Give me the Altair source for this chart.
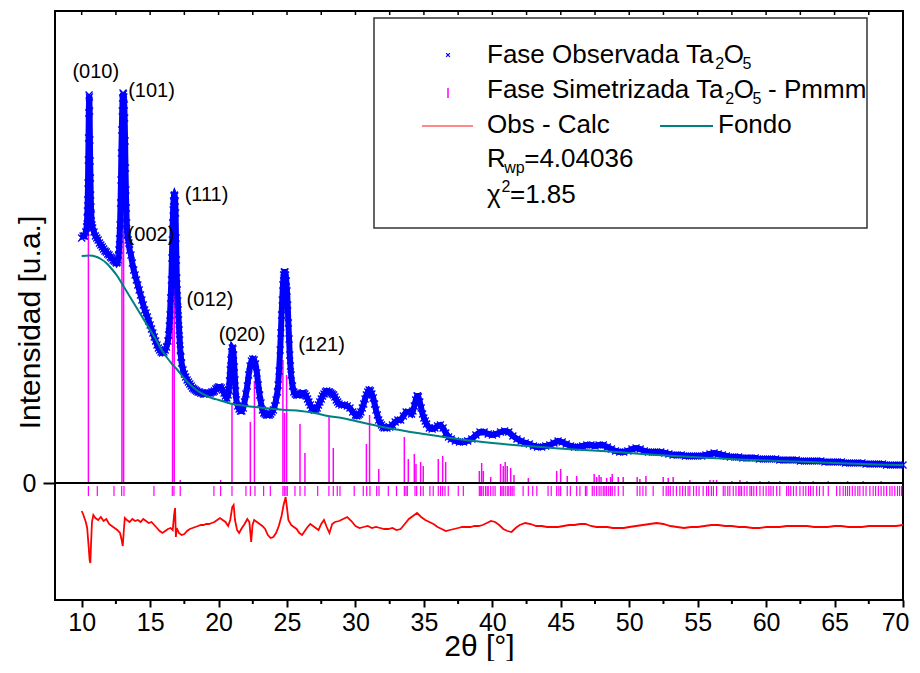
import altair as alt
import pandas as pd

# ---------------- data ----------------
# observed pattern (2theta, intensity in a.u.)
obs = [(10.0,245),(10.1,247),(10.2,247),(10.3,251),(10.36,256),(10.4,265),(10.42,272),(10.44,283),(10.46,300),(10.48,323),(10.5,345),(10.52,370),(10.54,388),(10.56,386),(10.58,372),(10.6,343),(10.62,322),(10.64,305),(10.66,288),(10.68,276),(10.7,268),(10.75,258),(10.8,255),(10.9,251),(11.0,247),(11.1,245),(11.2,243),(11.3,240),(11.4,238),(11.5,236),(11.6,234),(11.7,232),(11.8,231),(11.9,229),(12.0,228),(12.1,226),(12.2,225),(12.3,223),(12.4,222),(12.5,221),(12.55,220),(12.6,221),(12.65,223),(12.69,228),(12.72,233),(12.76,244),(12.8,258),(12.84,280),(12.87,303),(12.9,330),(12.93,353),(12.96,372),(12.99,385),(13.02,390),(13.05,389),(13.08,386),(13.11,378),(13.14,365),(13.17,342),(13.2,315),(13.23,293),(13.26,275),(13.29,260),(13.33,248),(13.4,243),(13.45,240),(13.5,233),(13.6,228),(13.7,220),(13.8,213),(13.9,208),(14.0,203),(14.1,198),(14.2,193),(14.3,188),(14.4,183),(14.5,178),(14.6,173),(14.7,170),(14.8,166),(14.9,162),(15.0,158),(15.1,154),(15.2,150),(15.3,146),(15.4,142),(15.5,138),(15.6,135),(15.7,133),(15.8,131),(15.9,130),(16.0,131),(16.1,133),(16.2,136),(16.3,142),(16.35,148),(16.4,157),(16.45,168),(16.5,185),(16.55,203),(16.59,225),(16.62,243),(16.65,260),(16.68,273),(16.71,282),(16.74,287),(16.77,288),(16.8,287),(16.83,282),(16.86,270),(16.89,245),(16.92,223),(16.95,205),(16.98,193),(17.02,182),(17.05,173),(17.08,163),(17.12,153),(17.16,143),(17.2,133),(17.25,126),(17.3,120),(17.4,113),(17.5,109),(17.6,106),(17.7,103),(17.8,101),(17.9,99),(18.0,97),(18.1,95),(18.2,94),(18.3,93),(18.4,92),(18.5,91),(18.6,91),(18.7,90),(18.8,90),(18.9,89),(19.0,89),(19.1,89),(19.2,90),(19.3,90),(19.4,90),(19.5,91),(19.6,91),(19.7,92),(19.8,94),(19.9,95),(20.0,96),(20.1,96),(20.2,95),(20.3,93),(20.4,90),(20.5,87),(20.6,85),(20.7,88),(20.75,93),(20.8,102),(20.85,113),(20.9,123),(20.95,131),(21.0,135),(21.05,134),(21.1,128),(21.15,116),(21.2,103),(21.25,92),(21.3,83),(21.4,77),(21.5,74),(21.6,72),(21.7,72),(21.8,75),(21.9,81),(22.0,89),(22.1,97),(22.2,108),(22.3,117),(22.4,122),(22.5,124),(22.6,123),(22.7,119),(22.8,110),(22.9,98),(23.0,88),(23.1,80),(23.2,73),(23.3,70),(23.4,69),(23.5,68),(23.6,68),(23.7,68),(23.8,69),(23.9,71),(24.0,73),(24.1,77),(24.2,83),(24.3,91),(24.35,98),(24.42,112),(24.5,133),(24.55,150),(24.6,168),(24.65,183),(24.7,198),(24.75,208),(24.8,211),(24.85,211),(24.9,208),(24.95,202),(25.0,192),(25.05,178),(25.1,160),(25.15,144),(25.2,128),(25.25,117),(25.3,108),(25.4,97),(25.5,91),(25.6,89),(25.7,88),(25.8,88),(25.9,88),(26.0,89),(26.1,90),(26.2,90),(26.3,89),(26.4,87),(26.5,84),(26.6,81),(26.7,78),(26.8,75),(26.9,74),(27.0,73),(27.1,74),(27.2,75),(27.3,78),(27.4,81),(27.5,84),(27.6,87),(27.7,89),(27.8,91),(27.9,92),(28.0,91),(28.1,91),(28.2,90),(28.3,89),(28.4,88),(28.5,86),(28.6,83),(28.7,81),(28.8,79),(29.0,78),(29.2,78),(29.4,77),(29.6,75),(29.8,71),(30.0,68),(30.1,67),(30.2,68),(30.3,69),(30.4,71),(30.5,75),(30.6,79),(30.7,84),(30.8,88),(30.9,91),(31.0,93),(31.1,92),(31.2,89),(31.3,85),(31.4,79),(31.5,73),(31.6,68),(31.7,63),(31.8,60),(31.9,58),(32.0,56),(32.1,55),(32.3,55),(32.5,56),(32.7,58),(32.9,61),(33.1,63),(33.3,63),(33.5,67),(33.7,71),(33.9,71),(34.1,69),(34.2,72),(34.3,77),(34.4,83),(34.5,87),(34.55,87),(34.6,86),(34.7,81),(34.8,75),(34.9,69),(35.0,65),(35.1,62),(35.2,59),(35.4,55),(35.6,54),(35.8,55),(36.0,57),(36.2,58),(36.4,55),(36.6,50),(36.8,46),(37.0,44),(37.3,42),(37.6,41),(37.9,41),(38.2,42),(38.5,44),(38.8,48),(39.1,51),(39.4,51),(39.7,49),(40.0,48),(40.3,49),(40.6,51),(40.9,52),(41.2,51),(41.5,47),(41.8,44),(42.1,42),(42.4,40),(42.7,39),(43.0,37),(43.3,36),(43.6,36),(43.9,37),(44.2,38),(44.5,40),(44.8,42),(45.1,41),(45.4,39),(45.7,37),(46.0,36),(46.3,36),(46.6,37),(46.9,38),(47.2,38),(47.5,37),(47.8,38),(48.1,38),(48.4,36),(48.7,34),(49.0,32),(49.3,31),(49.6,31),(49.9,32),(50.2,34),(50.5,35),(50.8,34),(51.1,32),(51.4,31),(51.7,31),(52.0,31),(52.3,31),(52.6,30),(52.9,29),(53.2,28),(53.5,28),(53.8,28),(54.1,27),(54.4,27),(54.7,27),(55.0,27),(55.3,27),(55.6,28),(55.9,29),(56.2,30),(56.5,29),(56.8,28),(57.1,27),(57.4,26),(57.7,26),(58.0,26),(58.3,25),(58.6,25),(58.9,25),(59.2,25),(59.5,24),(59.8,24),(60.1,24),(60.4,24),(60.7,24),(61.0,23),(61.3,23),(61.6,23),(61.9,23),(62.2,23),(62.5,22),(62.8,22),(63.1,22),(63.4,22),(63.7,22),(64.0,22),(64.3,21),(64.6,21),(64.9,21),(65.2,21),(65.5,21),(65.8,20),(66.1,20),(66.4,20),(66.7,20),(67.0,20),(67.3,19),(67.6,19),(67.9,19),(68.2,19),(68.5,19),(68.8,18),(69.1,18),(69.4,18),(69.7,18),(70.0,18)]

# background (Fondo)
fondo = [(10.0,227),(10.6,227.5),(11.0,226.5),(11.4,224),(11.8,220),(12.2,214),(12.6,207),(13.0,198),(13.4,189),(13.8,180),(14.2,171),(14.6,162),(15.0,153),(15.4,144),(15.8,134),(16.2,126),(16.6,119),(17.0,113),(17.4,106),(17.8,100),(18.2,95),(18.6,91),(19.0,88),(19.5,85),(20.0,83),(20.5,81),(21.0,79),(22.0,77),(23.0,75.5),(24.0,74),(25.0,73),(26.0,72),(27.0,70),(28.0,67),(29.0,65),(30.0,62),(31.0,59),(32.0,56),(33.0,53.5),(34.0,51),(35.0,49),(36.0,47),(37.0,45),(38.0,43),(39.0,41.5),(40.0,40),(42.0,37.5),(44.0,35.5),(46.0,33.5),(48.0,32),(50.0,30),(52.0,28),(54.0,26.5),(56.0,25),(58.0,23.5),(60.0,22.5),(62.0,21.5),(64.0,20.5),(66.0,19.5),(68.0,18.5),(70.0,18)]

# difference curve (Obs - Calc), plotted with its offset below zero
diff = [(10.0,-28),(10.1,-31),(10.2,-35),(10.3,-39),(10.4,-45),(10.5,-62),(10.58,-77),(10.63,-80),(10.68,-62),(10.75,-39),(10.85,-32),(11.0,-35),(11.2,-37),(11.4,-34),(11.6,-38),(11.8,-36),(12.0,-41),(12.2,-43),(12.4,-45),(12.6,-47),(12.8,-50),(12.92,-57),(13.0,-63),(13.08,-47),(13.15,-35),(13.3,-37),(13.5,-39),(13.7,-36),(13.9,-38),(14.1,-37),(14.3,-39),(14.5,-36),(14.7,-38),(14.9,-40),(15.1,-39),(15.3,-42),(15.5,-45),(15.7,-48),(15.9,-50),(16.1,-48),(16.3,-46),(16.5,-45),(16.65,-47),(16.75,-32),(16.82,-25),(16.88,-54),(16.95,-45),(17.1,-50),(17.3,-52),(17.5,-51),(17.7,-48),(17.9,-46),(18.1,-45),(18.3,-44),(18.5,-43),(18.7,-42),(18.9,-42),(19.1,-41),(19.3,-41),(19.5,-40),(19.7,-39),(19.9,-37),(20.1,-35),(20.3,-37),(20.5,-39),(20.7,-43),(20.85,-37),(21.0,-24),(21.1,-22),(21.2,-37),(21.35,-47),(21.5,-50),(21.7,-45),(21.9,-41),(22.1,-36),(22.25,-39),(22.38,-59),(22.48,-42),(22.6,-37),(22.8,-39),(23.0,-41),(23.2,-43),(23.4,-46),(23.6,-52),(23.8,-55),(24.0,-54),(24.2,-50),(24.4,-43),(24.6,-33),(24.75,-22),(24.9,-14),(25.0,-25),(25.1,-37),(25.3,-42),(25.5,-44),(25.7,-46),(25.9,-50),(26.1,-52),(26.3,-48),(26.5,-44),(26.7,-41),(26.9,-43),(27.1,-45),(27.3,-47),(27.5,-41),(27.7,-37),(27.9,-44),(28.1,-50),(28.3,-41),(28.5,-39),(28.8,-38),(29.1,-36),(29.4,-34),(29.7,-38),(30.0,-43),(30.3,-45),(30.6,-44),(30.9,-43),(31.2,-45),(31.5,-44),(31.8,-45),(32.1,-46),(32.4,-46),(32.7,-45),(33.0,-47),(33.3,-46),(33.6,-41),(33.9,-36),(34.2,-33),(34.5,-30),(34.8,-34),(35.1,-37),(35.4,-39),(35.7,-41),(36.0,-44),(36.3,-46),(36.6,-48),(36.9,-47),(37.2,-46),(37.5,-45),(37.8,-44),(38.1,-44),(38.4,-44),(38.7,-43),(39.0,-43),(39.3,-42),(39.6,-40),(39.9,-38),(40.2,-39),(40.5,-42),(40.8,-46),(41.1,-48),(41.4,-49),(41.7,-45),(42.0,-42),(42.4,-40),(42.8,-41),(43.2,-43),(43.6,-43),(44.0,-44),(44.4,-44),(44.8,-44),(45.2,-43),(45.6,-42),(46.0,-42),(46.4,-41),(46.8,-41),(47.2,-43),(47.6,-44),(48.0,-44),(48.4,-44),(48.8,-45),(49.2,-45),(49.6,-45),(50.0,-44),(50.5,-43),(51.0,-42),(51.5,-41),(52.0,-40),(52.5,-41),(53.0,-43),(53.5,-44),(54.0,-45),(54.5,-44),(55.0,-44),(55.5,-43),(56.0,-42),(56.5,-42),(57.0,-43),(57.5,-43),(58.0,-44),(58.5,-44),(59.0,-45),(59.5,-45),(60.0,-44),(60.5,-44),(61.0,-44),(61.5,-43),(62.0,-43),(62.5,-43),(63.0,-43),(63.5,-44),(64.0,-44),(64.5,-44),(65.0,-43),(65.5,-43),(66.0,-44),(66.5,-44),(67.0,-44),(67.5,-43),(68.0,-43),(68.5,-43),(69.0,-43),(69.5,-43),(70.0,-42)]

# calculated reflections of the symmetrised phase (position, intensity)
sticks = [(10.49,380),(12.94,390),(13.06,388),(16.64,283),(16.76,283),(17.2,3),(20.15,3),(20.98,78),(22.32,61),(22.62,102),(24.7,123),(24.82,70),(24.97,108),(25.95,59),(26.31,30),(28.07,66),(28.38,35),(30.8,39),(31.03,68),(31.7,14),(33.57,46),(33.86,24),(34.3,29),(34.42,19),(34.76,21),(34.95,17),(36.05,24),(36.37,27),(36.59,21),(39.05,12),(39.22,20),(39.34,12),(39.88,6),(40.6,19),(40.8,17),(40.94,21),(41.09,17),(41.34,15),(41.58,8),(42.63,5),(44.7,12),(44.99,14),(45.47,7),(46.16,7),(47.44,9),(47.62,6),(47.8,8),(47.94,6),(48.35,5),(48.64,6),(48.76,9),(49.2,6),(49.56,6),(50.58,6),(50.78,4),(51.22,7),(52.48,6),(52.85,5),(53.21,6),(54.43,3),(55.9,3),(56.15,3),(56.38,3),(57.5,2),(58.09,3),(58.6,2),(59.55,2),(60.2,2),(61.0,2),(62.47,2),(63.44,2),(64.54,2),(65.95,2),(67.09,2),(68.4,2)]

# Bragg positions (ticks under the zero line)
bragg = [10.49,11.14,12.36,12.92,13.09,15.28,16.62,16.74,17.2,19.66,20.15,20.98,22.0,22.32,22.66,23.29,23.78,24.7,24.8,24.92,25.02,25.58,25.95,26.31,27.24,28.06,28.38,28.67,28.87,29.91,30.57,30.82,31.06,31.55,31.72,32.4,33.0,33.57,33.69,33.79,34.35,34.47,34.76,34.95,35.44,35.68,36.05,36.22,36.37,36.54,36.78,37.51,37.88,39.05,39.15,39.22,39.34,39.5,39.62,39.7,39.88,40.05,40.2,40.6,40.7,40.8,40.94,41.09,41.2,41.34,41.45,41.58,42.25,42.63,42.95,43.25,44.07,44.3,44.7,44.86,44.99,45.47,45.7,46.16,46.4,46.8,46.9,47.3,47.44,47.62,47.8,47.94,48.1,48.22,48.35,48.5,48.64,48.76,48.95,49.2,49.56,50.58,50.78,51.0,51.22,51.75,52.48,52.7,52.85,53.0,53.21,53.45,53.7,53.9,54.1,54.3,54.43,54.7,54.9,55.1,55.4,55.65,55.8,56.0,56.15,56.38,56.87,57.0,57.2,57.35,57.6,57.8,58.0,58.09,58.21,58.4,58.6,58.82,58.94,59.1,59.3,59.55,59.79,60.0,60.2,60.35,60.52,60.77,61.0,61.5,61.65,61.8,62.0,62.2,62.47,62.71,62.9,63.1,63.25,63.44,63.69,63.9,64.17,64.54,65.15,65.39,65.63,65.8,65.95,66.1,66.3,66.5,66.7,66.85,67.09,67.3,67.58,67.82,68.0,68.2,68.4,68.6,68.8,69.04,69.2,69.4,69.6,69.75,69.9]

# Miller index labels (text, 2theta, intensity)
peak_labels = [("(010)",11.03,411),("(101)",15.10,392),("(002)",15.06,248),("(111)",19.12,288),("(012)",19.37,183),("(020)",21.71,148),("(121)",27.52,138)]

major_ticks = [10, 15, 20, 25, 30, 35, 40, 45, 50, 55, 60, 65, 70]
minor_ticks = [12.5, 17.5, 22.5, 27.5, 32.5, 37.5, 42.5, 47.5, 52.5, 57.5, 62.5, 67.5]
top_ticks = [10, 12.5, 15, 17.5, 20, 22.5, 25, 27.5, 30, 32.5, 35, 37.5, 40, 42.5, 45, 47.5, 50, 52.5, 55, 57.5, 60, 62.5, 65, 67.5, 70]

# ---------------- chart ----------------
FONT = "Liberation Sans"
W, H = 848, 589
xs = alt.Scale(domain=[8.05, 70], nice=False, zero=False)
ys = alt.Scale(domain=[-117, 472], nice=False, zero=False)

obs_df = pd.DataFrame(obs, columns=["t", "v"])
bg_df = pd.DataFrame(fondo, columns=["t", "v"])
diff_df = pd.DataFrame(diff, columns=["t", "v"])
st_df = pd.DataFrame(sticks, columns=["t", "v"])
st_df["base"] = 0
br_df = pd.DataFrame({"t": bragg})
lab_df = pd.DataFrame(peak_labels, columns=["txt", "t", "v"])
minor_df = pd.DataFrame({"t": minor_ticks})
top_df = pd.DataFrame({"t": top_ticks})

XN = alt.X("t:Q", scale=xs, axis=None)
YN = alt.Y("v:Q", scale=ys, axis=None)

stick_layer = alt.Chart(st_df).mark_rule(color="#ff00ff", strokeWidth=1.5).encode(
    x=XN, y=alt.Y("base:Q", scale=ys, axis=None), y2="v:Q")

bragg_layer = alt.Chart(br_df).mark_rule(color="#ff00ff", strokeWidth=1.2).encode(
    x=XN, y=alt.Y(datum=-3, scale=ys, axis=None), y2=alt.datum(-13))

zero_layer = alt.Chart(alt.Data(values=[{}])).mark_rule(color="black", strokeWidth=2).encode(
    y=alt.Y(datum=0, scale=ys, axis=None))

diff_layer = alt.Chart(diff_df).mark_line(color="#ff0000", strokeWidth=1.8).encode(x=XN, y=YN)

xcross = "M-1,-1L1,1M-1,1L1,-1"
obs_band = alt.Chart(obs_df).mark_line(color="#0000ff", strokeWidth=6).encode(x=XN, y=YN)
obs_layer = alt.Chart(obs_df).mark_point(shape=xcross, size=49, filled=False, stroke="#0000ff",
                                         strokeWidth=1.3, opacity=1).encode(
    x=alt.X("t:Q", scale=xs, axis=alt.Axis(orient="bottom", values=major_ticks, tickSize=7, tickWidth=2,
                                            tickColor="black", labelFontSize=25, labelColor="black",
                                            labelPadding=3, labelFlush=True, labelFlushOffset=6,
                                            domain=False, grid=False,
                                            title="2θ [°]", titleFontSize=30, titleFontWeight="normal",
                                            titleColor="black", titleY=46, titleBaseline="middle")),
    y=alt.Y("v:Q", scale=ys, axis=alt.Axis(orient="left", values=[0], format="d", tickSize=12, tickWidth=2,
                                            tickColor="black", labelFontSize=25, labelColor="black",
                                            labelPadding=7, domain=False, grid=False,
                                            title="Intensidad [u.a.]", titleFontSize=30,
                                            titleFontWeight="normal", titleColor="black", titleX=-25,
                                            titleY=311, titleAngle=270, titleAlign="center",
                                            titleBaseline="middle")))

bg_layer = alt.Chart(bg_df).mark_line(color="#008080", strokeWidth=2, interpolate="monotone").encode(x=XN, y=YN)

# minor ticks under the bottom edge and small inward ticks on the top edge
minor_layer = alt.Chart(minor_df).mark_rule(color="black", strokeWidth=2).encode(
    x=XN, y=alt.value(H), y2=alt.value(H + 4))
top_layer = alt.Chart(top_df).mark_rule(color="black", strokeWidth=1.5).encode(
    x=XN, y=alt.value(0), y2=alt.value(4))

label_layer = alt.Chart(lab_df).mark_text(fontSize=20, align="center", baseline="middle", color="black").encode(
    x=XN, y=YN, text="txt:N")

# ---------------- legend (built by hand) ----------------
AW = {' ': 278, '-': 333, '.': 278, '=': 584, 'F': 611, 'a': 556, 's': 500, 'e': 556, 'O': 778, 'b': 556,
      'r': 333, 'v': 500, 'd': 556, 'T': 611, 'S': 667, 'i': 222, 'm': 833, 't': 278, 'z': 500, 'P': 667,
      'C': 722, 'l': 222, 'c': 500, 'R': 722, 'w': 722, 'p': 556, 'o': 556, 'n': 556, 'χ': 560}

def tw(s, fs):
    return sum(AW.get(c, 556) for c in s) * fs / 1000.0

FS, FSS = 26, 16
LX = 432
rows = [
    (52, [("Fase Observada Ta", 0), ("2", 1), ("O", 0), ("5", 1)]),
    (87, [("Fase Simetrizada Ta", 0), ("2", 1), ("O", 0), ("5", 1), (" - Pmmm", 0)]),
    (122, [("Obs - Calc", 0)]),
    (156, [("R", 0), ("wp", 1), ("=4.04036", 0)]),
    (192, [("χ", 0), ("2", 2), ("=1.85", 0)]),
]
pieces = []
for base, parts in rows:
    x = LX
    for txt, kind in parts:
        fs = FS if kind == 0 else FSS
        lead = len(txt) - len(txt.lstrip(" "))
        x += tw(" " * lead, fs)
        body = txt.lstrip(" ")
        yy = base + (6 if kind == 1 else (-11 if kind == 2 else 0))
        pieces.append({"px": x, "py": yy, "txt": body, "fs": fs})
        trim = 0 if body == "χ" else (1.5 if kind == 0 else 0.5)
        x += tw(body, fs) - trim
pieces.append({"px": 663, "py": 122, "txt": "Fondo", "fs": FS})
leg_df = pd.DataFrame(pieces)

leg_box = alt.Chart(alt.Data(values=[{}])).mark_rect(fill="white", stroke="#333333", strokeWidth=1.5).encode(
    x=alt.value(319), x2=alt.value(812), y=alt.value(7), y2=alt.value(217))
leg_text = alt.Chart(leg_df).mark_text(align="left", baseline="alphabetic", color="black").encode(
    x=alt.X("px:Q", scale=None, axis=None), y=alt.Y("py:Q", scale=None, axis=None),
    text="txt:N", size=alt.Size("fs:Q", scale=None, legend=None))
leg_obs = alt.Chart(alt.Data(values=[{}])).mark_point(shape=xcross, size=14, filled=False, stroke="#0000ff",
                                                      strokeWidth=1.2, opacity=1).encode(
    x=alt.value(393), y=alt.value(44))
leg_stick = alt.Chart(alt.Data(values=[{}])).mark_rule(color="#ff00ff", strokeWidth=1.5).encode(
    x=alt.value(393), y=alt.value(77), y2=alt.value(87))
leg_diff = alt.Chart(alt.Data(values=[{}])).mark_rule(color="#ff6060", strokeWidth=1.5).encode(
    x=alt.value(367), x2=alt.value(418), y=alt.value(115))
leg_bg = alt.Chart(alt.Data(values=[{}])).mark_rule(color="#008080", strokeWidth=2).encode(
    x=alt.value(605), x2=alt.value(658), y=alt.value(115))

chart = alt.layer(
    stick_layer, bragg_layer, zero_layer, diff_layer, obs_band, obs_layer, bg_layer, label_layer,
    minor_layer, top_layer,
    leg_box, leg_text, leg_obs, leg_stick, leg_diff, leg_bg
).resolve_axis(x="independent", y="independent").properties(
    width=W, height=H,
    autosize=alt.AutoSizeParams(type="none"),
    padding={"left": 47, "top": 3, "right": 9, "bottom": 61},
).configure(font=FONT).configure_view(stroke="black", strokeWidth=2)

chart.save("out.html", embed_options={"renderer": "svg", "actions": False})
